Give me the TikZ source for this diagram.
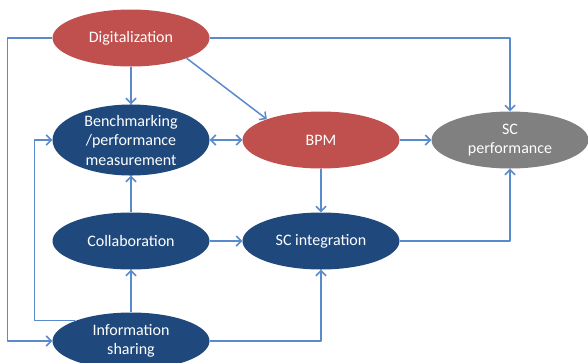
\documentclass[tikz,border=0pt]{standalone}
\usepackage{fontspec}
\setmainfont{Carlito}
\usetikzlibrary{shapes.geometric,arrows.meta}
\definecolor{redfill}{RGB}{192,80,77}
\definecolor{bluefill}{RGB}{31,73,125}
\definecolor{grayfill}{RGB}{128,128,128}
\definecolor{linkblue}{RGB}{88,138,204}
\begin{document}
\begin{tikzpicture}[x=1pt,y=-1pt,font=\fontsize{16}{19.5}\selectfont,line join=round,
		>={Straight Barb[length=5pt,width=10pt]},
		oval/.style={ellipse,minimum width=157pt,minimum height=57pt,inner sep=0pt,text=white,align=center},
		link/.style={draw=linkblue,line width=1.5pt}]
	\useasboundingbox (0,0) rectangle (588,362);
	\clip (0,0) rectangle (588,362);
	\path
	(131,38)node[oval,fill=redfill](dig){Digitalization}
	(131,140)node[oval,fill=bluefill](bench){Benchmarking\\/performance\\measurement}
	(321,140)node[oval,fill=redfill](bpm){BPM}
	(510,140)node[oval,fill=grayfill](perf){SC\\performance}
	(131,241)node[oval,fill=bluefill](collab){Collaboration}
	(321,241)node[oval,fill=bluefill](integ){SC integration}
	(131,341)node[oval,fill=bluefill](info){Information\\sharing}
	;
	\draw[link,->] (dig) -- (bench);
	\draw[link,->] (dig.-20) -- (bpm.159);
	\draw[link,->] (dig.east) -| (perf.north);
	\draw[link,->] (dig.west) -- ++(-45,0) |- (info.west);
	\draw[link,<->] (bench) -- (bpm);
	\draw[link,->] (bpm) -- (perf);
	\draw[link,->] (bpm) -- (integ);
	\draw[link,->] (collab) -- (bench);
	\draw[link,->] (collab) -- (integ);
	\draw[link,->] (info) -- (collab);
	\draw[link,->] (info.160) -| ([xshift=-18pt]bench.west) -- (bench.west);
	\draw[link,->] (info.east) -| (integ.south);
	\draw[link,->] (integ.east) -| (perf.south);
\end{tikzpicture}
\end{document}
